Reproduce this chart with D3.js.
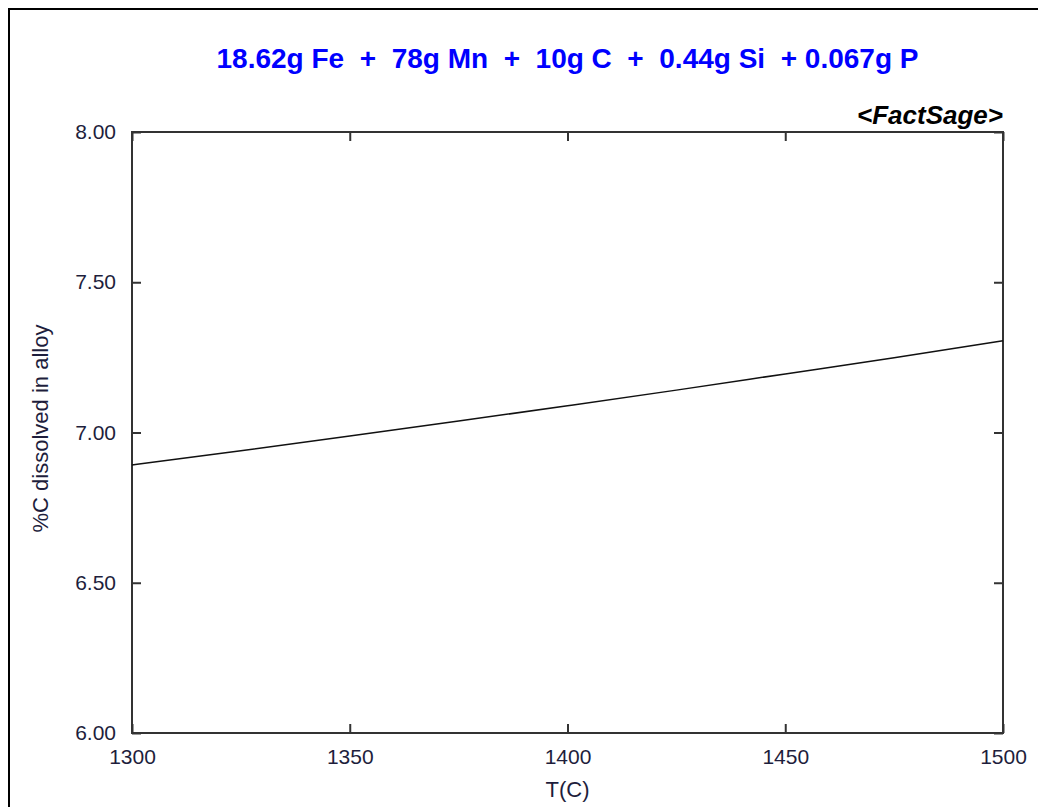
<!DOCTYPE html>
<html>
<head>
<meta charset="utf-8">
<script src="https://cdn.jsdelivr.net/npm/d3@7"></script>
<style>
  body { margin: 0; background: #fff; }
  svg text { font-family: "Liberation Sans", Arial, sans-serif; white-space: pre; }
</style>
</head>
<body>
<svg id="drawing_region"></svg>
<script>
// data
const temps = [1300, 1325, 1350, 1375, 1400, 1425, 1450, 1475, 1500];
const carbon = [6.892, 6.939, 6.988, 7.038, 7.089, 7.141, 7.195, 7.249, 7.305];
const xTicks = [1300, 1350, 1400, 1450, 1500];
const yTicks = [6.00, 6.50, 7.00, 7.50, 8.00];
const title = "18.62g Fe  +  78g Mn  +  10g C  +  0.44g Si  + 0.067g P";

const config = {
    width: 1038,
    height: 807,
    margin: {top: 132, right: 35, bottom: 74, left: 132}
};

const svg = d3.select('#drawing_region')
    .attr('width', config.width)
    .attr('height', config.height);

// outer frame (runs off the right and bottom edge)
svg.append('rect')
    .attr('x', 9).attr('y', 9)
    .attr('width', 1040).attr('height', 820)
    .attr('fill', 'none')
    .attr('stroke', '#000')
    .attr('stroke-width', 2);

const inner_width = config.width - config.margin.left - config.margin.right;
const inner_height = config.height - config.margin.top - config.margin.bottom;

const chart = svg.append('g')
    .attr('transform', `translate(${config.margin.left}, ${config.margin.top})`);

const xscale = d3.scaleLinear().domain([1300, 1500]).range([0, inner_width]);
const yscale = d3.scaleLinear().domain([6, 8]).range([inner_height, 0]);

// ticks pointing inwards on all four sides
const tickLen = 9;
const tickColor = '#333';

chart.append('g')
    .attr('transform', `translate(0, ${inner_height})`)
    .call(d3.axisBottom(xscale).tickValues(xTicks).tickSize(-tickLen).tickSizeOuter(0).tickFormat(d3.format('d')).tickPadding(16))
    .call(g => g.select('.domain').remove())
    .call(g => g.selectAll('line').attr('stroke', tickColor).attr('stroke-width', 2));

chart.append('g')
    .call(d3.axisTop(xscale).tickValues(xTicks).tickSize(-tickLen).tickSizeOuter(0).tickFormat(''))
    .call(g => g.select('.domain').remove())
    .call(g => g.selectAll('line').attr('stroke', tickColor).attr('stroke-width', 2));

chart.append('g')
    .call(d3.axisLeft(yscale).tickValues(yTicks).tickSize(-tickLen).tickSizeOuter(0).tickFormat(d3.format('.2f')).tickPadding(16))
    .call(g => g.select('.domain').remove())
    .call(g => g.selectAll('line').attr('stroke', tickColor).attr('stroke-width', 2));

chart.append('g')
    .attr('transform', `translate(${inner_width}, 0)`)
    .call(d3.axisRight(yscale).tickValues(yTicks).tickSize(-tickLen).tickSizeOuter(0).tickFormat(''))
    .call(g => g.select('.domain').remove())
    .call(g => g.selectAll('line').attr('stroke', tickColor).attr('stroke-width', 2));

chart.selectAll('.tick text')
    .attr('font-size', 21)
    .attr('fill', '#1e1e3c');

// plot frame
chart.append('rect')
    .attr('x', 0).attr('y', 0)
    .attr('width', inner_width).attr('height', inner_height)
    .attr('fill', 'none')
    .attr('stroke', tickColor)
    .attr('stroke-width', 2);

// data line
const line = d3.line()
    .x((d, i) => xscale(temps[i]))
    .y(d => yscale(d))
    .curve(d3.curveMonotoneX);

chart.append('path')
    .datum(carbon)
    .attr('d', line)
    .attr('fill', 'none')
    .attr('stroke', '#111')
    .attr('stroke-width', 1.5);

// texts
svg.append('text')
    .attr('x', config.margin.left + inner_width / 2)
    .attr('y', 68)
    .attr('text-anchor', 'middle')
    .attr('font-size', 28)
    .attr('font-weight', 'bold')
    .attr('fill', '#0000ff')
    .text(title);

svg.append('text')
    .attr('x', config.margin.left + inner_width)
    .attr('y', 124)
    .attr('text-anchor', 'end')
    .attr('font-size', 26)
    .attr('font-weight', 'bold')
    .attr('font-style', 'italic')
    .attr('fill', '#000')
    .text('<FactSage>');

svg.append('text')
    .attr('transform', `translate(48, ${config.margin.top + inner_height / 2 - 4}) rotate(-90)`)
    .attr('text-anchor', 'middle')
    .attr('font-size', 22)
    .attr('fill', '#1e1e3c')
    .text('%C dissolved in alloy');

svg.append('text')
    .attr('x', config.margin.left + inner_width / 2)
    .attr('y', 797)
    .attr('text-anchor', 'middle')
    .attr('font-size', 22)
    .attr('fill', '#1e1e3c')
    .text('T(C)');
</script>
</body>
</html>
